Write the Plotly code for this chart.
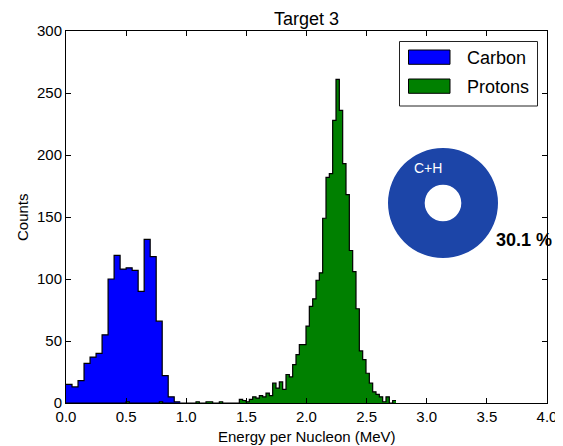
import plotly.graph_objects as go

# ---------------- data ----------------
carbon_bin_width = 0.05
carbon_counts = [15, 13, 18, 32, 37, 40, 55, 100, 119, 108, 109, 107, 90, 132, 118, 66, 22, 5, 1]

proton_bin_width = 0.02772
proton_counts = [
    0, 0, 0, 0, 0, 0, 0, 0, 0, 0,
    0, 0, 0, 0, 0, 0, 0, 0, 1, 0,
    0, 0, 0, 0, 0, 0, 0, 0, 1, 0,
    0, 0, 0, 0, 0, 0, 0, 0, 0, 1,
    0, 0, 1, 1, 0, 0, 1, 0, 0, 0,
    0, 0, 3, 2, 1, 3, 5, 4, 6, 5,
    8, 6, 16, 12, 17, 11, 23, 21, 31, 39,
    47, 47, 62, 78, 84, 99, 105, 149, 182, 185,
    228, 261, 236, 193, 168, 123, 106, 76, 42, 35,
    24, 16, 9, 7, 5, 1, 5, 0, 2,
]

series_names = ["Carbon", "Protons"]
series_colors = ["#0000ff", "#008000"]
donut_label = "C+H"
donut_value = [30.1]
donut_text = "30.1 %"
x_ticks = [0.0, 0.5, 1.0, 1.5, 2.0, 2.5, 3.0, 3.5, 4.0]
y_ticks = [0, 50, 100, 150, 200, 250, 300]

# ---------------- layout helpers ----------------
W, H = 563, 446          # browser window
OFF = 8                  # default page body margin
L, R, T, B = 66, 16, 31, 43   # plot area edges in window pixels
PW, PH = W - L - R, H - T - B


def px(xp):
    return (xp - L) / PW


def py(yp):
    return (H - B - yp) / PH


def step_xy(counts, width):
    edges = [i * width for i in range(len(counts) + 1)]
    ys = list(counts) + [counts[-1]]
    return edges, ys


FONT = "Liberation Sans"
fig = go.Figure()

for counts, width, name, color in [
    (carbon_counts, carbon_bin_width, series_names[0], series_colors[0]),
    (proton_counts, proton_bin_width, series_names[1], series_colors[1]),
]:
    xs, ys = step_xy(counts, width)
    fig.add_trace(go.Scatter(
        x=xs, y=ys, mode="lines", line=dict(shape="hv", color="black", width=1.2),
        fill="tozeroy", fillcolor=color, name=name, showlegend=False, hoverinfo="skip",
    ))

# inset donut
cx, cy, rad = 443, 203, 55
fig.add_trace(go.Pie(
    values=donut_value, labels=[donut_label], hole=0.333, sort=False,
    textinfo="none", hoverinfo="skip", showlegend=False,
    marker=dict(colors=["#1c45a8"], line=dict(width=0)),
    domain=dict(x=[px(cx - rad), px(cx + rad)], y=[py(cy + rad), py(cy - rad)]),
))

shapes = []
annotations = []
# legend box
shapes.append(dict(type="rect", xref="paper", yref="paper",
                   x0=px(399.5), x1=px(537.5), y0=py(106), y1=py(41.5),
                   line=dict(color="#222222", width=1), fillcolor="white", layer="above"))
for i, (name, color) in enumerate(zip(series_names, series_colors)):
    ytop = 50 + i * 29
    shapes.append(dict(type="rect", xref="paper", yref="paper",
                       x0=px(408.5), x1=px(450), y0=py(ytop + 14.3), y1=py(ytop),
                       line=dict(color="black", width=1), fillcolor=color, layer="above"))
    annotations.append(dict(text=name, xref="paper", yref="paper", x=px(465), y=py(ytop + 7.5),
                            xanchor="left", yanchor="middle", showarrow=False,
                            font=dict(family=FONT, size=18, color="black")))

annotations.append(dict(text=donut_label, xref="paper", yref="paper", x=px(428), y=py(168),
                        xanchor="center", yanchor="middle", showarrow=False,
                        font=dict(family=FONT, size=14, color="white")))
annotations.append(dict(text="<b>" + donut_text + "</b>", xref="paper", yref="paper", x=px(524), y=py(240),
                        xanchor="center", yanchor="middle", showarrow=False,
                        font=dict(family=FONT, size=18, color="black")))
annotations.append(dict(text="Counts", xref="paper", yref="paper", x=px(22), y=0.5,
                        xanchor="center", yanchor="middle", textangle=-90, showarrow=False,
                        font=dict(family=FONT, size=15, color="black")))
annotations.append(dict(text="Energy per Nucleon (MeV)", xref="paper", yref="paper", x=0.5, y=py(437),
                        xanchor="center", yanchor="middle", showarrow=False,
                        font=dict(family=FONT, size=15, color="black")))
annotations.append(dict(text="Target 3", xref="paper", yref="paper", x=0.5, y=py(19),
                        xanchor="center", yanchor="middle", showarrow=False,
                        font=dict(family=FONT, size=18, color="black")))

axis_common = dict(showgrid=False, zeroline=False, showline=True, linecolor="black", linewidth=1,
                   mirror="ticks", ticks="inside", ticklen=5, tickcolor="black", tickwidth=1,
                   tickfont=dict(family=FONT, size=15, color="black"))

fig.update_layout(
    width=W - OFF, height=H - OFF,
    margin=dict(l=L - OFF, r=R, t=T - OFF, b=B, autoexpand=False),
    paper_bgcolor="white", plot_bgcolor="white",
    xaxis=dict(range=[0, 4], tickvals=x_ticks, ticktext=[f"{v:.1f}" for v in x_ticks], **axis_common),
    yaxis=dict(range=[0, 300], tickvals=y_ticks, ticktext=[str(v) for v in y_ticks], **axis_common),
    shapes=shapes, annotations=annotations,
)

fig.write_html("out.html")
